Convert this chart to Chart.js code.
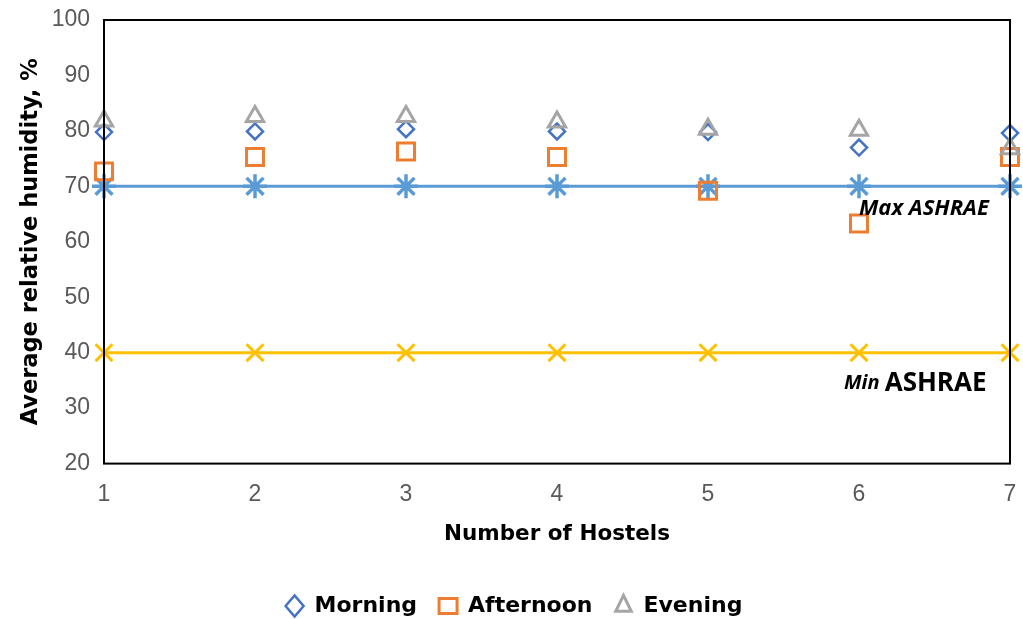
<!DOCTYPE html>
<html>
<head>
<meta charset="utf-8">
<script src="https://cdn.jsdelivr.net/npm/chart.js@4/dist/chart.umd.min.js"></script>
<style>
  html, body { margin: 0; padding: 0; background: #fff; }
  #wrap { width: 1023px; height: 619px; }
</style>
</head>
<body>
<div id="wrap"><canvas id="myChart" width="1023" height="619"></canvas></div>
<script>
// values
const hostels = [1, 2, 3, 4, 5, 6, 7];
const morning = [79.8, 79.9, 80.3, 79.9, 79.8, 77.0, 79.6];
const afternoon = [72.7, 75.3, 76.3, 75.3, 69.2, 63.3, 75.3];
const evening = [81.8, 82.6, 82.6, 81.6, 80.3, 80.1, 76.8];
const maxAshrae = [70, 70, 70, 70, 70, 70, 70];
const minAshrae = [40, 40, 40, 40, 40, 40, 40];
const yTicks = [20, 30, 40, 50, 60, 70, 80, 90, 100];

function toPoints(values) {
  return hostels.map((h, i) => ({ x: h, y: values[i] }));
}

// frame around plot area + ASHRAE labels
const framePlugin = {
  id: "frame",
  afterDatasetsDraw(chart) {
    const { ctx, chartArea, scales } = chart;
    ctx.save();
    ctx.strokeStyle = "#000";
    ctx.lineWidth = 2;
    ctx.strokeRect(chartArea.left, chartArea.top, chartArea.width, chartArea.height);

    ctx.fillStyle = "#000";
    ctx.textBaseline = "middle";
    // Max ASHRAE
    let x = scales.x.getPixelForValue(6.0);
    let y = scales.y.getPixelForValue(66.0);
    ctx.font = "italic bold 22px 'Open Sans'";
    ctx.fillText("Max ASHRAE", x, y);
    // Min ASHRAE
    x = scales.x.getPixelForValue(5.9);
    y = scales.y.getPixelForValue(34.4);
    ctx.font = "italic bold 20px 'Open Sans'";
    ctx.fillText("Min", x, y);
    const w = ctx.measureText("Min ").width;
    ctx.font = "bold 26px 'Open Sans'";
    ctx.fillText("ASHRAE", x + w, y);
    ctx.restore();
  }
};

const ctx = document.getElementById("myChart").getContext("2d");
const chart = new Chart(ctx, {
  type: "scatter",
  data: {
    datasets: [
      {
        label: "Morning",
        data: toPoints(morning),
        borderColor: "#4472C4",
        backgroundColor: "rgba(0,0,0,0)",
        pointStyle: "rectRot",
        pointRadius: 8,
        pointBorderWidth: 2.5,
        order: 3
      },
      {
        label: "Afternoon",
        data: toPoints(afternoon),
        borderColor: "#ED7D31",
        backgroundColor: "rgba(0,0,0,0)",
        pointStyle: "rect",
        pointRadius: 12,
        pointBorderWidth: 3,
        order: 2
      },
      {
        label: "Evening",
        data: toPoints(evening),
        borderColor: "#A5A5A5",
        backgroundColor: "rgba(0,0,0,0)",
        pointStyle: "triangle",
        pointRadius: 10,
        pointBorderWidth: 3,
        order: 1
      },
      {
        label: "Max ASHRAE",
        data: toPoints(maxAshrae),
        showLine: true,
        borderColor: "#5B9BD5",
        backgroundColor: "#5B9BD5",
        borderWidth: 3,
        pointStyle: "star",
        pointRadius: 12,
        pointBorderWidth: 3.5,
        order: 5
      },
      {
        label: "Min ASHRAE",
        data: toPoints(minAshrae),
        showLine: true,
        borderColor: "#FFC000",
        backgroundColor: "#FFC000",
        borderWidth: 3,
        pointStyle: "crossRot",
        pointRadius: 12,
        pointBorderWidth: 3,
        order: 5
      }
    ]
  },
  options: {
    responsive: false,
    animation: false,
    clip: false,
    layout: { autoPadding: false, padding: { left: 18, right: 13, top: 20, bottom: -8 } },
    plugins: {
      tooltip: { enabled: false },
      legend: {
        position: "bottom",
        labels: {
          filter: (item) => item.text !== "Max ASHRAE" && item.text !== "Min ASHRAE",
          sort: (a, b) => a.datasetIndex - b.datasetIndex,
          usePointStyle: true,
          pointStyleWidth: 18,
          boxHeight: 15,
          padding: 22,
          color: "#000",
          font: { family: "DejaVu Sans", size: 22, weight: "bold" }
        }
      }
    },
    scales: {
      x: {
        type: "linear",
        min: 1,
        max: 7,
        grid: { display: false, drawTicks: false },
        border: { display: false },
        afterFit: (axis) => {
          axis.paddingLeft = 0;
          axis.paddingRight = 0;
        },
        ticks: {
          stepSize: 1,
          padding: 17,
          color: "#595959",
          font: { family: "Liberation Sans", size: 23 }
        },
        title: {
          display: true,
          text: "Number of Hostels",
          color: "#000",
          padding: { top: -4, bottom: 26 },
          font: { family: "DejaVu Sans", size: 21.5, weight: "bold" }
        }
      },
      y: {
        min: 20,
        max: 100,
        grid: { display: false, drawTicks: false },
        border: { display: false },
        afterFit: (axis) => {
          axis.width = 86;
          axis.paddingTop = 0;
          axis.paddingBottom = 0;
        },
        afterBuildTicks: (axis) => {
          axis.ticks = yTicks.map((v) => ({ value: v }));
        },
        ticks: {
          padding: 14,
          color: "#595959",
          font: { family: "Liberation Sans", size: 23 }
        },
        title: {
          display: true,
          text: "Average relative humidity, %",
          color: "#000",
          padding: { top: 0, bottom: 6 },
          font: { family: "DejaVu Sans", size: 22.5, weight: "bold" }
        }
      }
    }
  },
  plugins: [framePlugin]
});
</script>
</body>
</html>
